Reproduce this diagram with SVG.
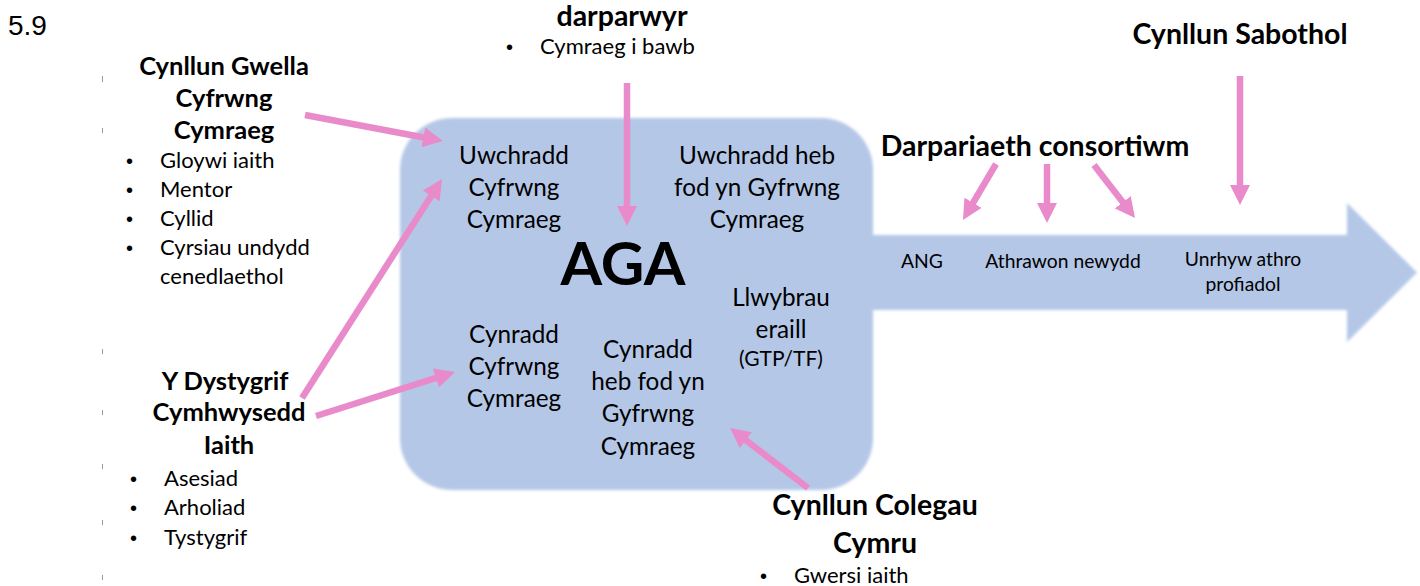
<svg xmlns="http://www.w3.org/2000/svg" width="1420" height="586" viewBox="0 0 1420 586">
<style>
text{font-family:Lato,"Open Sans","DejaVu Sans",sans-serif;fill:#000}
.h{font-weight:bold;font-size:25.5px;text-anchor:middle}
.H{font-weight:bold;font-size:28.5px;text-anchor:middle}
.b{font-size:22px}
.dot{font-family:"Liberation Sans",Arial,sans-serif;font-size:20px}
.in{font-size:24.3px;text-anchor:middle}
.band{font-size:19.3px;text-anchor:middle}
.conn line{stroke:#E98BCA;stroke-width:6.5;fill:none;marker-end:url(#ah)}
.tick{stroke:#9a9a9a;stroke-width:1}
</style>
<defs>
<marker id="ah" markerUnits="userSpaceOnUse" markerWidth="20" markerHeight="20" viewBox="0 0 20 20" refX="2" refY="10" orient="auto">
<path d="M0,0 L20,10 L0,20 Z" fill="#E98BCA"/>
</marker>
<filter id="soft" x="-5%" y="-5%" width="110%" height="110%"><feGaussianBlur stdDeviation="1.6"/></filter>
</defs>
<rect width="1420" height="586" fill="#fff"/>
<g id="ticks">
<line class="tick" x1="102.5" y1="76" x2="102.5" y2="82"/>
<line class="tick" x1="102.5" y1="128" x2="102.5" y2="133"/>
<line class="tick" x1="102.5" y1="349" x2="102.5" y2="354"/>
<line class="tick" x1="102.5" y1="410" x2="102.5" y2="415"/>
<line class="tick" x1="102.5" y1="464" x2="102.5" y2="469"/>
<line class="tick" x1="102.5" y1="520" x2="102.5" y2="525"/>
<line class="tick" x1="102.5" y1="575" x2="102.5" y2="580"/>
</g>
<text x="8" y="35" style="font-family:'Liberation Sans',Arial,sans-serif;font-size:28px">5.9</text>
<g id="aga">
<path filter="url(#soft)" fill="#B4C7E7" d="M452,118 H821 A52,52 0 0 1 873,170 V235 H1347 V203 L1417,272.5 L1347,342 V310 H873 V438 A52,52 0 0 1 821,490 H452 A52,52 0 0 1 400,438 V170 A52,52 0 0 1 452,118 Z"/>
<text class="in" x="514" y="164">Uwchradd</text>
<text class="in" x="514" y="196">Cyfrwng</text>
<text class="in" x="514" y="228">Cymraeg</text>
<text class="in" x="757" y="164">Uwchradd heb</text>
<text class="in" x="757" y="196">fod yn Gyfrwng</text>
<text class="in" x="757" y="228">Cymraeg</text>
<text x="623" y="285" style="font-weight:bold;font-size:60px;text-anchor:middle">AGA</text>
<text class="in" x="781" y="306">Llwybrau</text>
<text class="in" x="781" y="338">eraill</text>
<text x="781" y="366" style="font-size:21px;text-anchor:middle">(GTP/TF)</text>
<text class="in" x="514" y="343">Cynradd</text>
<text class="in" x="514" y="375">Cyfrwng</text>
<text class="in" x="514" y="407">Cymraeg</text>
<text class="in" x="648" y="358">Cynradd</text>
<text class="in" x="648" y="390">heb fod yn</text>
<text class="in" x="648" y="422">Gyfrwng</text>
<text class="in" x="648" y="455">Cymraeg</text>
<text class="band" x="922" y="268">ANG</text>
<text class="band" x="1063" y="268">Athrawon newydd</text>
<text class="band" x="1243" y="266">Unrhyw athro</text>
<text class="band" x="1243" y="291">profiadol</text>
</g>
<g id="gwella">
<text class="h" x="224" y="75">Cynllun Gwella</text>
<text class="h" x="224" y="107">Cyfrwng</text>
<text class="h" x="224" y="139">Cymraeg</text>
<text class="dot" x="126" y="168">•</text><text class="b" x="160" y="168">Gloywi iaith</text>
<text class="dot" x="126" y="197">•</text><text class="b" x="160" y="197">Mentor</text>
<text class="dot" x="126" y="226">•</text><text class="b" x="160" y="226">Cyllid</text>
<text class="dot" x="126" y="255">•</text><text class="b" x="160" y="255">Cyrsiau undydd</text>
<text class="b" x="160" y="284">cenedlaethol</text>
</g>
<g id="dystygrif">
<text class="h" x="225" y="390">Y Dystygrif</text>
<text class="h" x="229" y="421">Cymhwysedd</text>
<text class="h" x="229" y="454">Iaith</text>
<text class="dot" x="130" y="486">•</text><text class="b" x="164" y="486">Asesiad</text>
<text class="dot" x="130" y="515">•</text><text class="b" x="164" y="515">Arholiad</text>
<text class="dot" x="130" y="545">•</text><text class="b" x="164" y="545">Tystygrif</text>
</g>
<g id="darparwyr">
<text class="H" x="622" y="26">darparwyr</text>
<text class="dot" x="506" y="54">•</text><text class="b" x="540" y="54">Cymraeg i bawb</text>
</g>
<g id="sabothol">
<text class="H" x="1240" y="44">Cynllun Sabothol</text>
</g>
<g id="consortiwm">
<text class="H" x="1035" y="156">Darpariaeth consortiwm</text>
</g>
<g id="colegau">
<text class="H" x="875" y="515">Cynllun Colegau</text>
<text class="H" x="875" y="553">Cymru</text>
<text class="dot" x="760" y="583">•</text><text class="b" x="794" y="583">Gwersi iaith</text>
</g>
<g id="connectors" class="conn">
<line x1="305" y1="115" x2="425.3" y2="137.7"/>
<line x1="302" y1="398" x2="432.3" y2="194.2"/>
<line x1="316" y1="416" x2="437.8" y2="377.4"/>
<line x1="627" y1="83" x2="627" y2="208"/>
<line x1="808" y1="488" x2="744.3" y2="439"/>
<line x1="996" y1="164" x2="972.1" y2="204.5"/>
<line x1="1047" y1="164" x2="1047" y2="205"/>
<line x1="1094" y1="165" x2="1124" y2="203.8"/>
<line x1="1240" y1="76" x2="1240" y2="187"/>
</g>
</svg>
